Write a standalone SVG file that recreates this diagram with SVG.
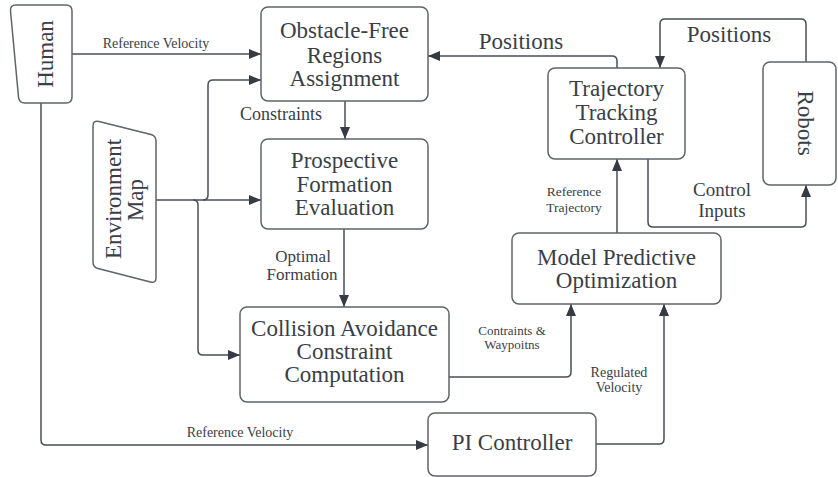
<svg xmlns="http://www.w3.org/2000/svg" width="838" height="477" viewBox="0 0 838 477">
<style>
  .box { fill: #ffffff; stroke: #5f636a; stroke-width: 1.5; }
  .edge { fill: none; stroke: #4a4e56; stroke-width: 1.5; }
  text { font-family: Liberation Serif, Times New Roman, Times, DejaVu Serif, serif; fill: #3a3e46; }
  .bt { font-size: 23px; text-anchor: middle; }
  .lbl { text-anchor: middle; }
</style>
<defs>
  <marker id="arr" viewBox="0 0 12 10" markerWidth="12" markerHeight="10" refX="12" refY="5" orient="auto" markerUnits="userSpaceOnUse">
    <path d="M0,0 L12,5 L0,10 Z" fill="#363a43"/>
  </marker>
</defs>
<rect width="838" height="477" fill="#ffffff"/>

<g id="connectors">
  <path class="edge" marker-end="url(#arr)" d="M72,54 H261"/>
  <path class="edge" marker-end="url(#arr)" d="M156,200 H203 Q208,200 208,195 V85 Q208,80 213,80 H261"/>
  <path class="edge" marker-end="url(#arr)" d="M203,200 H261"/>
  <path class="edge" marker-end="url(#arr)" d="M193,200 Q198,200 198,205 V350 Q198,355 203,355 H240"/>
  <path class="edge" marker-end="url(#arr)" d="M345,101 V139"/>
  <path class="edge" marker-end="url(#arr)" d="M344,229 V307"/>
  <path class="edge" marker-end="url(#arr)" d="M449,377 H566 Q571,377 571,372 V304"/>
  <path class="edge" marker-end="url(#arr)" d="M41,103 V440 Q41,445 46,445 H428"/>
  <path class="edge" marker-end="url(#arr)" d="M596,444 H659 Q664,444 664,439 V304"/>
  <path class="edge" marker-end="url(#arr)" d="M617,233 V159"/>
  <path class="edge" marker-end="url(#arr)" d="M617,68 V61 Q617,56 612,56 H428"/>
  <path class="edge" marker-end="url(#arr)" d="M806,62 V24 Q806,19 801,19 H665 Q660,19 660,24 V68"/>
  <path class="edge" marker-end="url(#arr)" d="M648,159 V222 Q648,227 653,227 H801 Q806,227 806,222 V185"/>

  <text class="lbl" x="156" y="48" font-size="14">Reference Velocity</text>
  <text class="lbl" x="281" y="120" font-size="18">Constraints</text>
  <text class="lbl" x="303" y="262" font-size="17">Optimal</text>
  <text class="lbl" x="302" y="280" font-size="17">Formation</text>
  <text class="lbl" x="512" y="335" font-size="13">Contraints &amp;</text>
  <text class="lbl" x="512" y="349" font-size="13">Waypoitns</text>
  <text class="lbl" x="619" y="377" font-size="14">Regulated</text>
  <text class="lbl" x="619" y="392" font-size="14">Velocity</text>
  <text class="lbl" x="240" y="437" font-size="14">Reference Velocity</text>
  <text class="lbl" x="521" y="49" font-size="23">Positions</text>
  <text class="lbl" x="729" y="42" font-size="23">Positions</text>
  <text class="lbl" x="722" y="196" font-size="19">Control</text>
  <text class="lbl" x="722" y="217" font-size="19">Inputs</text>
  <text class="lbl" x="574" y="196" font-size="13.5">Reference</text>
  <text class="lbl" x="574" y="212" font-size="13.5">Trajectory</text>
</g>

<g id="human">
  <path class="box" d="M16,5 H66 Q72,5 72,11 V97 Q72,103 66,103 H25 Q19,103 18.5,97 L10.5,11 Q10,5 16,5 Z"/>
  <text class="bt" font-size="25" transform="translate(53,54) rotate(-90)">Human</text>
</g>

<g id="environment-map">
  <path class="box" d="M99,121.5 L151,134.5 Q156,136 156,141 V278 Q156,283.5 150.5,282 L98,268.5 Q93,267 93,262 V126 Q93,120 99,121.5 Z"/>
  <text class="bt" font-size="24" transform="translate(121,199) rotate(-90)">Environment</text>
  <text class="bt" font-size="24" transform="translate(143,200) rotate(-90)">Map</text>
</g>

<g id="obstacle-free">
  <rect class="box" x="261" y="7" width="167" height="94" rx="7"/>
  <text class="bt" x="344.5" y="38">Obstacle-Free</text>
  <text class="bt" x="344.5" y="63">Regions</text>
  <text class="bt" x="344.5" y="86">Assignment</text>
</g>

<g id="prospective">
  <rect class="box" x="261" y="139" width="167" height="90" rx="7"/>
  <text class="bt" x="344.5" y="168">Prospective</text>
  <text class="bt" x="344.5" y="192">Formation</text>
  <text class="bt" x="344.5" y="215">Evaluation</text>
</g>

<g id="collision">
  <rect class="box" x="240" y="307" width="209" height="95" rx="7"/>
  <text class="bt" font-size="19.5" x="344.5" y="336">Collision Avoidance</text>
  <text class="bt" font-size="19.5" x="344.5" y="359">Constraint</text>
  <text class="bt" font-size="19.5" x="344.5" y="382">Computation</text>
</g>

<g id="mpo">
  <rect class="box" x="512" y="233" width="209" height="71" rx="7"/>
  <text class="bt" font-size="24" x="616.5" y="265">Model Predictive</text>
  <text class="bt" font-size="24" x="616.5" y="288">Optimization</text>
</g>

<g id="ttc">
  <rect class="box" x="548" y="68" width="137" height="91" rx="7"/>
  <text class="bt" x="616.5" y="96">Trajectory</text>
  <text class="bt" x="616.5" y="120">Tracking</text>
  <text class="bt" x="616.5" y="144">Controller</text>
</g>

<g id="robots">
  <rect class="box" x="763" y="62" width="73" height="123" rx="7"/>
  <text class="bt" font-size="24" transform="translate(798,123) rotate(90)">Robots</text>
</g>

<g id="pi-controller">
  <rect class="box" x="428" y="413" width="168" height="63" rx="7"/>
  <text class="bt" font-size="24" x="512" y="450">PI Controller</text>
</g>
</svg>
